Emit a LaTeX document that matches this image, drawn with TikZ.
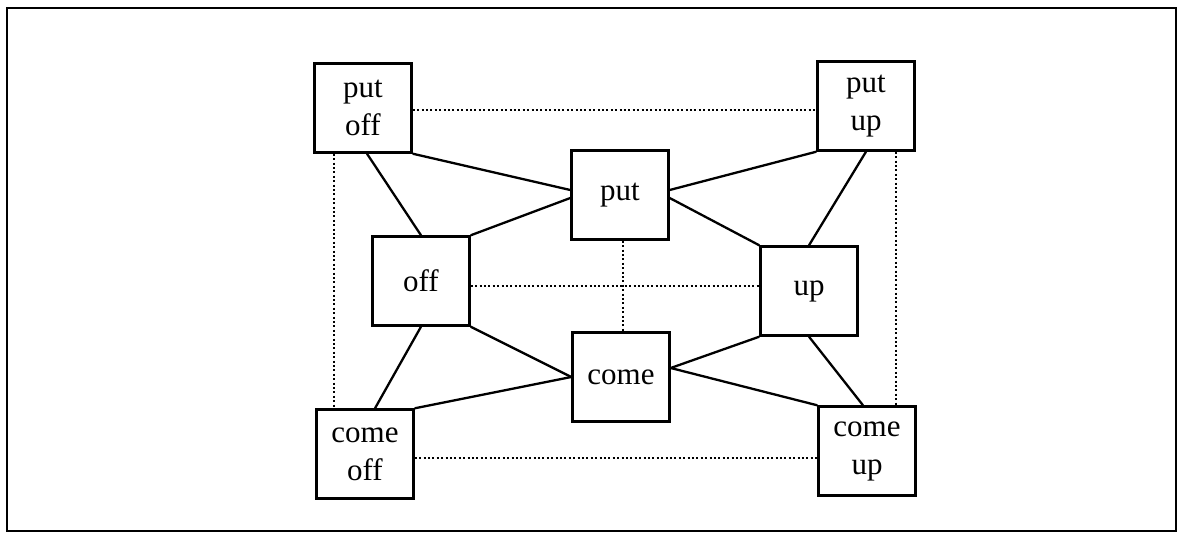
\documentclass[tikz,border=0pt]{standalone}
\usepackage{fontspec}
\setmainfont{Liberation Serif}
\begin{document}
\begin{tikzpicture}[x=1pt,y=-1pt,
    box/.style={draw,line width=2.4pt,inner sep=0pt,minimum width=97pt,minimum height=89pt,align=center,font=\fontsize{31}{38}\selectfont},
    link/.style={line width=2.3pt},
    dots/.style={line width=2.2pt,dash pattern=on 2pt off 2.4pt}]
    \useasboundingbox (0,0) rectangle (1179,533);
    \draw[line width=2.6pt] (7,8) rectangle (1176,531);
    \node[box] (putoff) at (363,108) {put\\off};
    \node[box] (putup) at (866,106) {put\\up};
    \node[box] (put) at (620,195) {put};
    \node[box] (off) at (421,281) {off};
    \node[box] (up) at (809,291) {up};
    \node[box] (come) at (621,377) {come};
    \node[box] (comeoff) at (365,454) {come\\off};
    \node[box] (comeup) at (867,451) {come\\up};
    \draw[link] (putoff.south east) -- ([yshift=5pt]put.west);
    \draw[link] ([xshift=4pt]putoff.south) -- (off.north);
    \draw[link] (off.north east) -- ([yshift=-3pt]put.west);
    \draw[link] ([yshift=5pt]put.east) -- (putup.south west);
    \draw[link] ([yshift=-3pt]put.east) -- (up.north west);
    \draw[link] (putup.south) -- (up.north);
    \draw[link] (off.south east) -- (come.west);
    \draw[link] (off.south) -- ([xshift=10pt]comeoff.north);
    \draw[link] (comeoff.north east) -- (come.west);
    \draw[link] (up.south west) -- ([yshift=9pt]come.east);
    \draw[link] ([yshift=9pt]come.east) -- (comeup.north west);
    \draw[link] (up.south) -- ([xshift=-4pt]comeup.north);
    \draw[dots] ([yshift=-2pt]putoff.east) -- ([yshift=-2pt]putoff.east -| putup.west);
    \draw[dots] ([xshift=21pt]putoff.south west) -- ([xshift=21pt]putoff.south west |- comeoff.north);
    \draw[dots] ([xshift=-20pt]putup.south east) -- ([xshift=-20pt]putup.south east |- comeup.north);
    \draw[dots] ([yshift=-4pt]comeoff.east) -- ([yshift=-4pt]comeoff.east -| comeup.west);
    \draw[dots] ([yshift=-5pt]off.east) -- ([yshift=-5pt]off.east -| up.west);
    \draw[dots] ([xshift=3pt]put.south) -- ([xshift=3pt]put.south |- come.north);
\end{tikzpicture}
\end{document}
